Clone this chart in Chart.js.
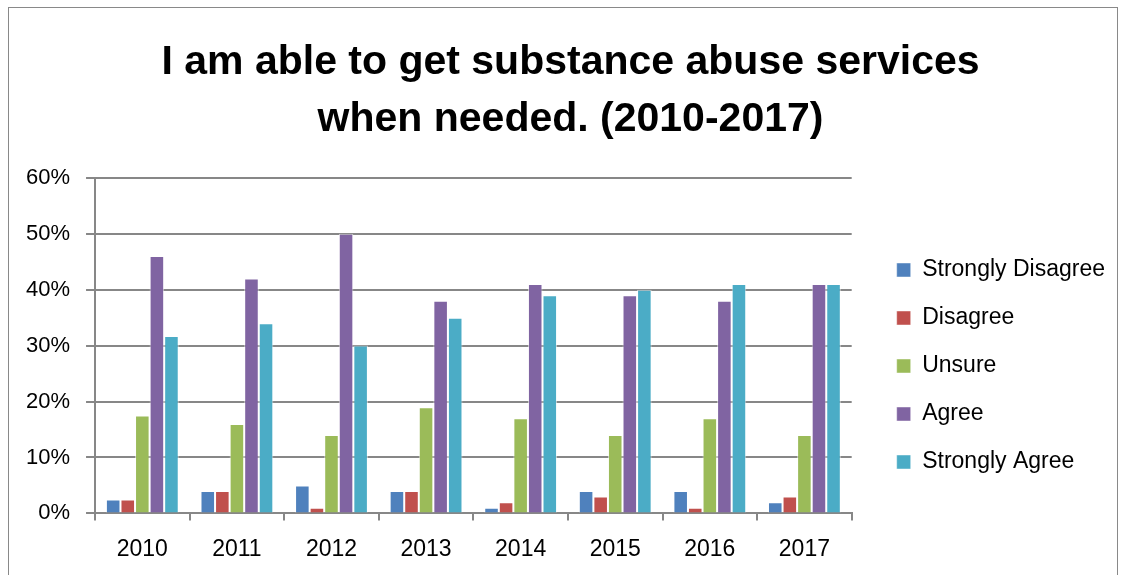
<!DOCTYPE html>
<html>
<head>
<meta charset="utf-8">
<script src="https://cdn.jsdelivr.net/npm/chart.js@4"></script>
<style>
    html, body { margin: 0; padding: 0; background: #fff; overflow: hidden; }
    #wrap { position: relative; width: 1121px; height: 575px; overflow: hidden; }
    #frame {
        position: absolute; left: 8px; top: 7px; width: 1108px; height: 600px;
        border: 1px solid #898989; pointer-events: none;
    }
    canvas { position: absolute; left: 0; top: 0; }
</style>
</head>
<body>
<div id="wrap">
    <canvas id="surveyChart" width="1121" height="578"></canvas>
    <div id="frame"></div>
</div>
<script>
// Survey responses by year (share of respondents)
const years = ['2010', '2011', '2012', '2013', '2014', '2015', '2016', '2017'];
const stronglyDisagree = [0.025, 0.04, 0.05, 0.04, 0.01, 0.04, 0.04, 0.02];
const disagree = [0.025, 0.04, 0.01, 0.04, 0.02, 0.03, 0.01, 0.03];
const unsure = [0.175, 0.16, 0.14, 0.19, 0.17, 0.14, 0.17, 0.14];
const agree = [0.46, 0.42, 0.50, 0.38, 0.41, 0.39, 0.38, 0.41];
const stronglyAgree = [0.317, 0.34, 0.30, 0.35, 0.39, 0.40, 0.41, 0.41];
const yTicks = [0, 0.1, 0.2, 0.3, 0.4, 0.5, 0.6];

const FONT = "'Liberation Sans', Arial, sans-serif";

function series(label, data, color) {
    return {
        label: label,
        data: data,
        backgroundColor: color,
        borderColor: 'rgba(255, 255, 255, 0.6)',
        borderWidth: { left: 1, right: 1, top: 1, bottom: 0 },
        categoryPercentage: 0.77,
        barPercentage: 1.0
    };
}

// Nudge legend and title to where Excel puts them
const blockOffset = {
    id: 'blockOffset',
    afterLayout(chart) {
        const lg = chart.legend;
        if (lg) {
            lg.left += 20;
            lg.right += 20;
            lg.top += 65;
            lg.bottom += 65;
        }
        const tb = chart.titleBlock;
        if (tb) {
            tb.left += 18;
            tb.right += 18;
        }
    }
};

const ctx = document.getElementById('surveyChart').getContext('2d');

new Chart(ctx, {
    type: 'bar',
    data: {
        labels: years,
        datasets: [
            series('Strongly Disagree', stronglyDisagree, '#4F81BD'),
            series('Disagree', disagree, '#C0504D'),
            series('Unsure', unsure, '#9BBB59'),
            series('Agree', agree, '#8064A2'),
            series('Strongly Agree', stronglyAgree, '#4BACC6')
        ]
    },
    options: {
        responsive: false,
        animation: false,
        layout: {
            padding: { left: 10, right: 26, top: 24, bottom: 0 }
        },
        plugins: {
            title: {
                display: true,
                text: ['I am able to get substance abuse services', 'when needed. (2010-2017)'],
                color: '#000',
                font: { family: FONT, size: 41, weight: 'bold', lineHeight: 1.4 },
                padding: { top: 10, bottom: 29 }
            },
            legend: {
                position: 'right',
                labels: {
                    color: '#000',
                    font: { family: FONT, size: 23 },
                    boxWidth: 14,
                    boxHeight: 14,
                    padding: 25
                }
            },
            tooltip: { enabled: false }
        },
        scales: {
            x: {
                grid: {
                    display: true,
                    drawOnChartArea: false,
                    drawTicks: true,
                    tickLength: 7,
                    color: '#878787',
                    lineWidth: 2
                },
                border: { color: '#878787', width: 2 },
                ticks: {
                    color: '#000',
                    font: { family: FONT, size: 23 },
                    padding: 15
                }
            },
            y: {
                min: 0,
                max: 0.6,
                afterBuildTicks: axis => {
                    axis.ticks = yTicks.map(v => ({ value: v }));
                },
                grid: {
                    color: '#878787',
                    lineWidth: 2,
                    tickLength: 9
                },
                border: { color: '#878787', width: 2 },
                ticks: {
                    color: '#000',
                    font: { family: FONT, size: 22 },
                    padding: 16,
                    callback: v => Math.round(v * 100) + '%'
                }
            }
        }
    },
    plugins: [blockOffset]
});
</script>
</body>
</html>
